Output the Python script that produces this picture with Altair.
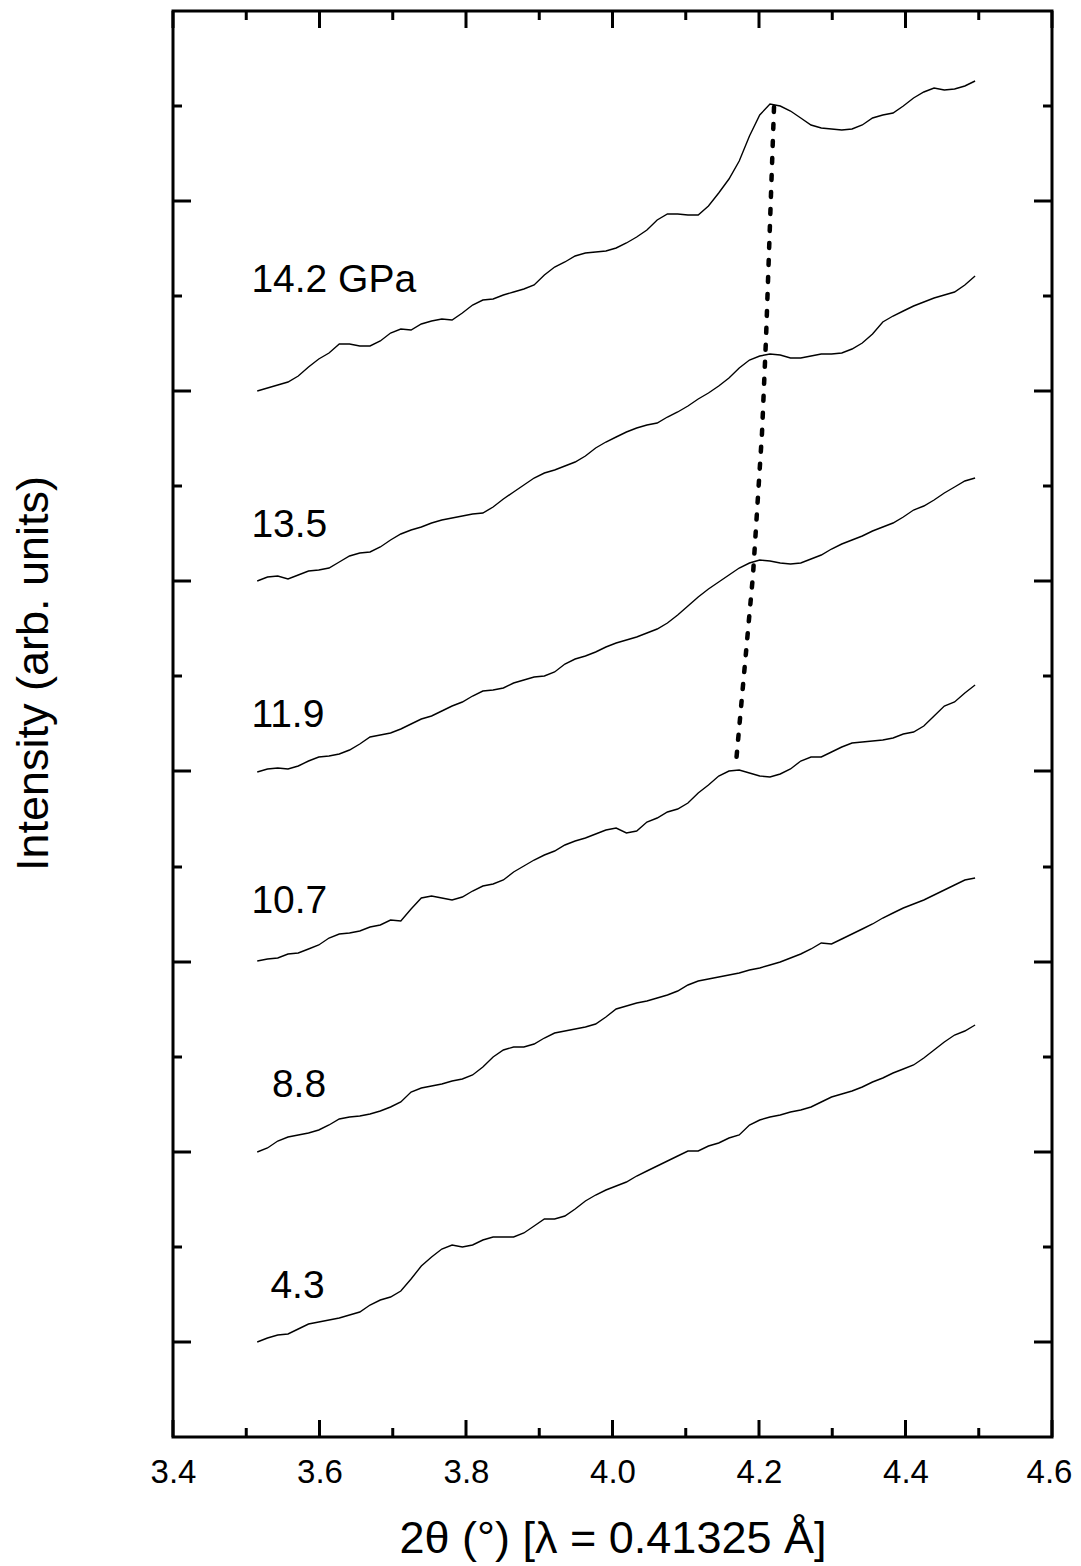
import altair as alt
import pandas as pd

# 2-theta grid (degrees), shared by every pattern
two_theta = [3.515, 3.529, 3.543, 3.557, 3.571, 3.585, 3.599, 3.613, 3.627, 3.641,
             3.655, 3.669, 3.683, 3.697, 3.711, 3.725, 3.739, 3.753, 3.767, 3.781,
             3.795, 3.809, 3.823, 3.837, 3.851, 3.865, 3.879, 3.893, 3.907, 3.921,
             3.935, 3.949, 3.963, 3.977, 3.991, 4.005, 4.019, 4.033, 4.047, 4.061,
             4.075, 4.089, 4.103, 4.117, 4.131, 4.145, 4.159, 4.173, 4.187, 4.201,
             4.215, 4.229, 4.243, 4.257, 4.271, 4.285, 4.299, 4.313, 4.327, 4.341,
             4.355, 4.369, 4.383, 4.397, 4.411, 4.425, 4.439, 4.453, 4.467, 4.481,
             4.495]

# stacked intensities (arb. units)
i_142 = [1046, 1049, 1052, 1055, 1061, 1070, 1078, 1084, 1093, 1093, 1091, 1091, 1096, 1104, 1108,
         1107, 1113, 1116, 1118, 1117, 1124, 1132, 1137, 1138, 1142, 1145, 1148, 1152, 1162, 1170,
         1175, 1181, 1184, 1185, 1186, 1189, 1194, 1200, 1207, 1217, 1223, 1223, 1222, 1222, 1231,
         1244, 1258, 1276, 1301, 1322, 1333, 1331, 1326, 1319, 1312, 1309, 1308, 1307, 1308, 1312,
         1319, 1322, 1324, 1331, 1339, 1345, 1349, 1347, 1348, 1351, 1356]
i_135 = [856, 860, 861, 858, 862, 866, 867, 869, 875, 881, 884, 885, 890, 897, 903,
         907, 910, 914, 917, 919, 921, 923, 924, 930, 938, 945, 952, 959, 964, 967,
         971, 975, 981, 989, 995, 1000, 1005, 1009, 1012, 1014, 1020, 1025, 1031, 1038, 1044,
         1051, 1059, 1069, 1077, 1081, 1083, 1082, 1079, 1079, 1081, 1083, 1083, 1084, 1088, 1094,
         1103, 1115, 1121, 1126, 1131, 1135, 1139, 1142, 1145, 1152, 1161]
i_119 = [665, 668, 669, 668, 671, 676, 680, 681, 683, 687, 693, 700, 702, 704, 708,
         713, 718, 721, 726, 731, 735, 741, 746, 747, 749, 754, 757, 760, 761, 765,
         773, 778, 781, 785, 790, 794, 797, 800, 804, 808, 814, 822, 831, 840, 848,
         855, 862, 869, 874, 877, 876, 874, 873, 874, 878, 882, 888, 893, 897, 901,
         906, 910, 914, 920, 927, 931, 937, 944, 950, 956, 959]
i_107 = [476, 478, 479, 483, 484, 488, 492, 499, 503, 504, 506, 510, 512, 517, 516,
         528, 539, 541, 539, 537, 540, 546, 551, 553, 557, 565, 571, 577, 582, 586,
         592, 596, 599, 603, 607, 609, 604, 606, 615, 619, 625, 628, 634, 644, 652,
         661, 666, 667, 664, 661, 660, 663, 668, 676, 680, 680, 685, 690, 694, 695,
         696, 697, 699, 703, 705, 711, 721, 731, 735, 744, 752]
i_88 = [285, 289, 296, 300, 302, 304, 307, 312, 318, 320, 321, 323, 326, 330, 335,
        345, 349, 351, 353, 356, 358, 362, 370, 380, 387, 390, 390, 393, 399, 404,
        406, 408, 410, 413, 420, 428, 431, 434, 436, 439, 442, 446, 452, 456, 458,
        460, 462, 464, 467, 469, 472, 475, 479, 483, 488, 494, 493, 498, 503, 508,
        513, 519, 524, 529, 533, 537, 542, 547, 552, 557, 559]
i_43 = [95, 99, 102, 103, 108, 113, 115, 117, 119, 122, 125, 132, 137, 140, 146,
        158, 171, 180, 188, 192, 190, 192, 197, 200, 200, 200, 204, 211, 218, 218,
        221, 228, 236, 242, 247, 251, 255, 261, 266, 271, 276, 281, 286, 286, 291,
        294, 299, 302, 312, 317, 320, 322, 325, 327, 330, 335, 340, 343, 346, 350,
        355, 359, 364, 368, 372, 379, 387, 395, 402, 406, 412]

pressures = ["14.2", "13.5", "11.9", "10.7", "8.8", "4.3"]
series = [i_142, i_135, i_119, i_107, i_88, i_43]

# pressure labels
label_text = ["14.2 GPa", "13.5", "11.9", "10.7", "8.8", "4.3"]
label_x = [3.507, 3.507, 3.507, 3.507, 3.535, 3.533]
label_y = [1145, 900, 710, 524, 340, 139]

# dashed guide through the peak
peak_x = [4.2205, 4.2096, 4.2041, 4.1918, 4.1686]
peak_y = [1330, 1099, 1004, 862, 674]

# tick positions
x_major = [3.4, 3.6, 3.8, 4.0, 4.2, 4.4, 4.6]
x_minor = [3.5, 3.7, 3.9, 4.1, 4.3, 4.5]
y_major = [95, 285, 475, 666, 856, 1046, 1236]
y_minor = [190, 380, 570, 761, 951, 1141, 1331]

W, H = 879, 1426
FONT = "Liberation Sans"

rows = []
for name, vals in zip(pressures, series):
    for xv, yv in zip(two_theta, vals):
        rows.append({"x": xv, "I": yv, "p": name})
df = pd.DataFrame(rows)

lab_df = pd.DataFrame({"x": label_x, "I": label_y, "t": label_text})
peak_df = pd.DataFrame({"x": peak_x, "I": peak_y, "o": list(range(len(peak_x)))})

xs = alt.Scale(domain=[3.4, 4.6], nice=False, zero=False)
ys = alt.Scale(domain=[0, 1426], nice=False, zero=False)

xaxis = alt.Axis(values=x_major, format=".1f", ticks=False, tickSize=0, domain=False,
                 grid=False, labelFontSize=33, labelColor="black", labelFont=FONT,
                 labelBaseline="alphabetic", labelPadding=45, labelFlush=False,
                 labelOverlap=False,
                 labelOffset={"condition": {"test": "datum.value > 4.55", "value": -3},
                              "value": 0},
                 title="2θ (°) [λ = 0.41325 Å]", titleFont=FONT,
                 titleFontSize=45, titleFontWeight="normal", titleColor="black",
                 titleBaseline="alphabetic", titleY=115, titleX=W / 2)
yaxis = alt.Axis(labels=False, ticks=False, domain=False, grid=False,
                 title="Intensity (arb. units)", titleFont=FONT, titleFontSize=45,
                 titleFontWeight="normal", titleColor="black", titleAngle=270,
                 titleX=-126, titleY=662, titleBaseline="alphabetic", titleAlign="center")

X = lambda f: alt.X(f, scale=xs, axis=xaxis)
Y = lambda f: alt.Y(f, scale=ys, axis=yaxis)

curves = alt.Chart(df).mark_line(color="black", strokeWidth=1.4).encode(
    x=X("x:Q"), y=Y("I:Q"), detail="p:N")

guide = alt.Chart(peak_df).mark_line(color="black", strokeWidth=4.5, strokeDash=[5, 12],
                                     strokeCap="round").encode(
    x=X("x:Q"), y=Y("I:Q"), order="o:Q")

labels = alt.Chart(lab_df).mark_text(align="left", baseline="alphabetic", fontSize=39,
                                     font=FONT, color="black").encode(
    x=X("x:Q"), y=Y("I:Q"), text="t:N")

xmaj = pd.DataFrame({"v": x_major})
xmin = pd.DataFrame({"v": x_minor})
ymaj = pd.DataFrame({"v": y_major})
ymin = pd.DataFrame({"v": y_minor})

def xticks(d, length):
    b = alt.Chart(d).mark_rule(color="black", strokeWidth=3).encode(
        x=X("v:Q"), y=alt.value(H), y2=alt.value(H - length))
    t = alt.Chart(d).mark_rule(color="black", strokeWidth=3).encode(
        x=X("v:Q"), y=alt.value(0), y2=alt.value(length))
    return [b, t]

def yticks(d, length):
    l = alt.Chart(d).mark_rule(color="black", strokeWidth=3).encode(
        y=Y("v:Q"), x=alt.value(0), x2=alt.value(length))
    r = alt.Chart(d).mark_rule(color="black", strokeWidth=3).encode(
        y=Y("v:Q"), x=alt.value(W), x2=alt.value(W - length))
    return [l, r]

layers = [curves, guide, labels] + xticks(xmaj, 17) + xticks(xmin, 9) + \
    yticks(ymaj, 18) + yticks(ymin, 9)

chart = alt.layer(*layers).properties(
    width=W, height=H,
    padding={"left": 165, "top": 3, "right": 21, "bottom": 125},
    autosize=alt.AutoSizeParams(type="none"),
    background="white",
).configure(font=FONT, view=alt.ViewConfig(stroke="black", strokeWidth=3))

chart.save("out.html", embed_options={"renderer": "svg", "actions": False})
